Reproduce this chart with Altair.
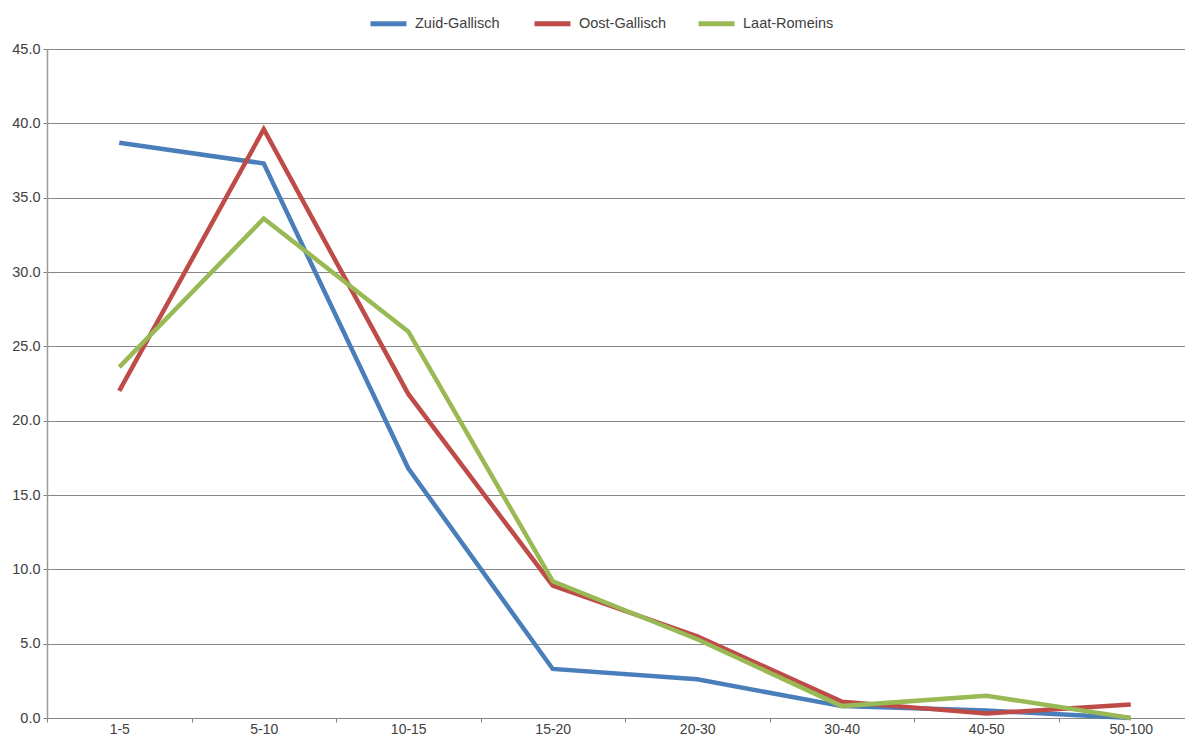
import altair as alt
import pandas as pd

categories = ["1-5", "5-10", "10-15", "15-20", "20-30", "30-40", "40-50", "50-100"]
zuid_gallisch = [38.7, 37.3, 16.8, 3.3, 2.6, 0.8, 0.5, 0.0]
oost_gallisch = [22.0, 39.6, 21.8, 8.9, 5.5, 1.1, 0.3, 0.9]
laat_romeins = [23.6, 33.6, 26.0, 9.2, 5.3, 0.8, 1.5, 0.0]

series_names = ["Zuid-Gallisch", "Oost-Gallisch", "Laat-Romeins"]
series_colors = ["#4A7EBB", "#BE4B48", "#98B954"]

rows = []
for name, vals in zip(series_names, [zuid_gallisch, oost_gallisch, laat_romeins]):
    for c, v in zip(categories, vals):
        rows.append({"cat": c, "value": v, "series": name})
df = pd.DataFrame(rows)

FONT = "Liberation Sans"

chart = alt.Chart(df).mark_line(strokeWidth=4.5, strokeJoin="miter", strokeCap="butt").encode(
    x=alt.X("cat:N", sort=categories, title=None,
            scale=alt.Scale(type="band", domain=categories, paddingInner=0, paddingOuter=0, range=[0, 1156]),
            axis=alt.Axis(tickBand="extent", labelAngle=0, labelFontSize=14, labelFont=FONT,
                          labelColor="#404040", labelPadding=0, tickSize=4, tickColor="#808080",
                          domainColor="#868686", domainWidth=1, grid=False)),
    y=alt.Y("value:Q", title=None,
            scale=alt.Scale(domain=[0, 45], nice=False, zero=True),
            axis=alt.Axis(values=[0, 5, 10, 15, 20, 25, 30, 35, 40, 45], format=".1f",
                          labelFontSize=14.5, labelFont=FONT, labelColor="#404040",
                          labelPadding=3, tickSize=4, tickColor="#808080",
                          domainColor="#9a9a9a", domainWidth=1.5,
                          grid=True, gridColor="#878787", gridWidth=1)),
    color=alt.Color("series:N", sort=series_names,
                    scale=alt.Scale(domain=series_names, range=series_colors),
                    legend=alt.Legend(title=None, orient="none", legendX=321, legendY=-46,
                                      direction="horizontal", columns=3, symbolType="stroke",
                                      symbolSize=1296, symbolStrokeWidth=5, labelFontSize=14.5,
                                      labelFont=FONT, labelColor="#404040", labelOffset=6,
                                      gridAlign="all", columnPadding=18)),
).properties(
    width=1138, height=669,
    padding={"left": 39, "top": 41, "right": 0, "bottom": 19},
    autosize=alt.AutoSizeParams(type="none"),
).configure_view(stroke=None)

chart.save("out.html", embed_options={"renderer": "svg", "actions": False})
